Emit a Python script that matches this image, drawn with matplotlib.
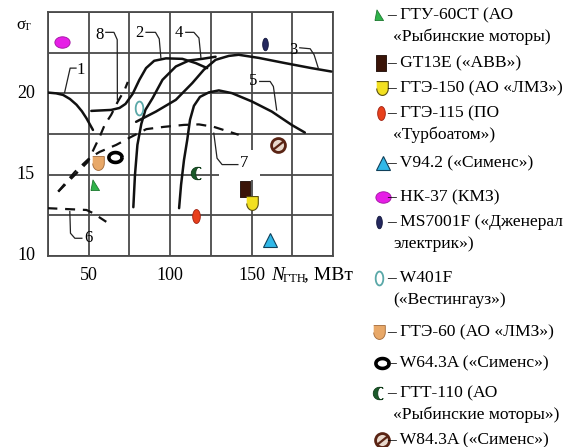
import numpy as np
import matplotlib.pyplot as plt
from matplotlib.path import Path
from matplotlib.patches import Rectangle

plt.rcParams['font.family'] = ['Liberation Serif', 'DejaVu Serif']

# кривые 1..8 : N (МВт), sigma_T
c1_n = [24.6, 30.0, 34.3, 38.5, 42.5, 45.8, 48.6, 52.6]
c1_s = [20.05, 20.0, 19.9, 19.65, 19.3, 18.9, 18.47, 17.75]
c2_n = [51.6, 63.8, 68.9, 72.6, 77.0, 81.1, 85.2, 90.2, 97.4, 107.5, 115.7, 122.7]
c2_s = [18.92, 18.98, 19.1, 19.35, 19.97, 20.83, 21.55, 22.0, 22.15, 22.12, 21.86, 21.55]
c3_n = [79.1, 91.3, 103.5, 113.6, 120.7, 127.9, 136.0, 142.1, 154.3, 170.5, 186.8, 199.0]
c3_s = [18.25, 18.88, 19.6, 20.63, 21.45, 22.06, 22.3, 22.37, 22.18, 21.86, 21.55, 21.34]
c4_n = [77.4, 78.4, 79.9, 82.3, 84.8, 89.2, 95.3, 103.5, 111.6, 119.7, 127.9]
c4_s = [13.0, 14.98, 16.83, 18.12, 18.98, 19.7, 20.83, 21.65, 22.02, 22.12, 22.25]
c5_n = [105.5, 106.7, 108.5, 110.5, 112.2, 114.6, 118.3, 123.8, 129.9, 138.0, 150.2, 162.4, 174.6, 182.7]
c5_s = [12.94, 14.37, 15.9, 17.14, 18.37, 19.23, 19.78, 20.06, 20.18, 20.01, 19.5, 18.88, 18.06, 17.59]
c6_n = [24.6, 48.6, 52.4, 60.8]
c6_s = [12.94, 12.83, 12.65, 12.1]
c7_n = [31.3, 41.5, 50.6, 56.7, 66.9, 76.0, 85.4, 96.3, 108.5, 117.7, 126.8, 142.1]
c7_s = [13.96, 15.17, 16.03, 16.4, 16.83, 17.32, 17.8, 17.94, 18.06, 18.09, 17.94, 17.45]
c8_n = [31.3, 49.4, 53.7, 56.7, 59.8, 63.8, 67.9, 72.0, 74.0]
c8_s = [13.96, 15.78, 16.7, 17.32, 18.06, 18.68, 19.5, 20.2, 20.7]

# ГТУ (точки)
gtu_names = ["ГТУ-60СТ", "GT13E", "ГТЭ-150", "ГТЭ-115", "V94.2", "НК-37",
             "MS7001F", "W401F", "ГТЭ-60", "W64.3A", "ГТТ-110", "W84.3A"]
gtu_n = [54.1, 146.2, 150.2, 116.0, 161.4, 33.4, 158.3, 81.1, 55.7, 65.9, 116.3, 166.5]
gtu_s = [14.37, 14.1, 13.28, 12.46, 10.98, 23.13, 23.05, 19.09, 15.74, 16.11, 15.09, 16.83]

legend_text = [
    ["– ГТУ-60СТ (АО", "«Рыбинские моторы)"],
    ["– GT13E («АВВ»)"],
    ["– ГТЭ-150 (АО «ЛМЗ»)"],
    ["– ГТЭ-115 (ПО", "«Турбоатом»)"],
    ["– V94.2 («Сименс»)"],
    ["– НК-37 (КМЗ)"],
    ["– MS7001F («Дженерал", "электрик»)"],
    ["– W401F", "(«Вестингауз»)"],
    ["– ГТЭ-60 (АО «ЛМЗ»)"],
    ["– W64.3A («Сименс»)"],
    ["– ГТТ-110 (АО", "«Рыбинские моторы»)"],
    ["– W84.3A («Сименс»)"],
]

# формы маркеров
t = np.linspace(0, 2 * np.pi, 40)
ell_h = Path(np.c_[np.cos(t), 0.75 * np.sin(t)])
ell_v = Path(np.c_[0.55 * np.cos(t), np.sin(t)])
ell_n = Path(np.c_[0.45 * np.cos(t), np.sin(t)])
tb = np.linspace(np.pi, 2 * np.pi, 15)
shield = Path(np.r_[[[-0.5, 0.6], [0.5, 0.6], [0.5, 0.0]],
                    np.c_[0.5 * np.cos(tb[::-1]), 0.6 * np.sin(tb[::-1])], [[-0.5, 0.0]]])
rtri = Path([(-0.45, -0.5), (0.4, -0.5), (-0.25, 0.55), (-0.45, -0.5)])
rect = Path([(-0.3, -0.5), (0.3, -0.5), (0.3, 0.5), (-0.3, 0.5), (-0.3, -0.5)])
ta = np.linspace(0.3 * np.pi, 1.7 * np.pi, 25)
crescent = Path(np.r_[np.c_[np.cos(ta), np.sin(ta)],
                      np.c_[0.55 * np.cos(ta[::-1]) + 0.265, np.sin(ta[::-1])]])
slash = Path([(-0.5, -0.4), (0.5, 0.4)])

styles = [
    dict(marker=rtri, ms=8, mfc='#2fb34a', mec='#1d7a30', mew=0.6),
    dict(marker=rect, ms=12, mfc='#3a1408', mec='#1a0804', mew=0.6),
    dict(marker=shield, ms=10, mfc='#f2e020', mec='#5a5010', mew=0.8),
    dict(marker=ell_v, ms=10, mfc='#e8401c', mec='#a02010', mew=0.6),
    dict(marker='^', ms=10, mfc='#30b8e8', mec='#10405a', mew=0.8),
    dict(marker=ell_h, ms=11, mfc='#e61ee6', mec='#a010a0', mew=0.6),
    dict(marker=ell_n, ms=9, mfc='#24285e', mec='#10143a', mew=0.6),
    dict(marker=ell_v, ms=10, mfc='white', mec='#5aa8a8', mew=1.3),
    dict(marker=shield, ms=10, mfc='#e8a868', mec='#a06838', mew=0.6),
    dict(marker=ell_h, ms=9.5, mfc='white', mec='black', mew=2.6),
    dict(marker=crescent, ms=9, mfc='#1a5a2a', mec='#0e3a18', mew=0.6),
    dict(marker='o', ms=10, mfc='#e8d8cc', mec='#5a2414', mew=2.0),
]

fig = plt.figure(figsize=(5.69, 4.47), dpi=100)
ax = fig.add_axes([48 / 569, 1 - 256 / 447, 285 / 569, 244 / 447])
ax.set_xlim(25, 200)
ax.set_ylim(10, 25)
ax.set_xticks(np.arange(25, 201, 25))
ax.set_yticks(np.arange(10, 25.1, 2.5))
ax.set_xticklabels([])
ax.set_yticklabels([])
ax.tick_params(length=0)
ax.grid(True, color='#4a4a4a', lw=1.3)
for sp in ax.spines.values():
    sp.set_color('#4a4a4a')
    sp.set_linewidth(1.3)

solid = dict(color='#111111', lw=1.8, solid_capstyle='round', zorder=3)
dashed = dict(color='#111111', lw=1.6, ls=(0, (4.5, 3.5)), zorder=3)
ax.plot(c1_n, c1_s, **solid)
ax.plot(c2_n, c2_s, **solid)
ax.plot(c3_n, c3_s, **solid)
ax.plot(c4_n, c4_s, **solid)
ax.plot(c5_n, c5_s, **solid)
ax.plot(c6_n, c6_s, **dashed)
ax.plot(c7_n, c7_s, **dashed)
ax.plot(c8_n, c8_s, **dashed)

for n, s, st in zip(gtu_n, gtu_s, styles):
    ax.plot([n], [s], ls='none', zorder=4, **st)
ax.plot([gtu_n[-1]], [gtu_s[-1]], ls='none', marker=slash, ms=8, mec='#5a2414', mew=1.6, zorder=5)

# белое поле под меткой 7
ax.add_patch(Rectangle((130, 14.7), 25, 1.8, facecolor='white', edgecolor='none', zorder=2.5))

# номера кривых с выносками
lead = dict(color='#222222', lw=0.9, zorder=3, clip_on=False)
tk = dict(fontsize=12, ha='center', va='center', zorder=6)
ax.text(44.8, 21.45, "1", **tk)
ax.plot([42.2, 38.6, 35.2], [21.55, 21.55, 20.05], **lead)
ax.text(56.7, 23.6, "8", **tk)
ax.plot([60.5, 65.5, 67.5, 67.6], [23.75, 23.75, 23.3, 19.6], **lead)
ax.text(81.1, 23.7, "2", **tk)
ax.plot([85.2, 91.0, 93.3, 94.3], [23.75, 23.75, 23.35, 22.2], **lead)
ax.text(105.5, 23.7, "4", **tk)
ax.plot([109.6, 114.6, 117.7, 118.9], [23.75, 23.75, 23.4, 22.2], **lead)
ax.text(175.6, 22.68, "3", **tk)
ax.plot([179.6, 186.0, 188.4, 190.9], [22.8, 22.74, 22.37, 21.57], **lead)
ax.text(151.2, 20.73, "5", **tk)
ax.plot([155.0, 161.4, 163.4, 165.4], [20.73, 20.73, 20.42, 18.98], **lead)
ax.text(145.3, 15.7, "7", **tk)
ax.plot([141.6, 131.9, 128.8, 126.8], [15.62, 15.62, 16.01, 17.55], **lead)
ax.text(49.8, 11.09, "6", **tk)
ax.plot([45.8, 41.5, 38.8, 38.4], [11.09, 11.09, 11.4, 12.73], **lead)

# оверлей в пикселях: подписи осей и легенда
ov = fig.add_axes([0, 0, 1, 1])
ov.set_xlim(0, 569)
ov.set_ylim(447, 0)
ov.axis('off')

for v, lab in [(20, "20"), (15, "15"), (10, "10")]:
    ov.text(35, 256 - (v - 10) * 16.27, lab, fontsize=13, ha='right', va='center')
for v, lab in [(50, "50"), (100, "100"), (150, "150")]:
    ov.text(48 + (v - 25) * 1.63, 275, lab, fontsize=13, ha='center', va='center')
ov.text(16, 25, "σ", fontsize=12, ha='left', va='center')
ov.text(24, 28, "Т", fontsize=8, ha='left', va='center')
ov.text(271, 275, "N", fontsize=14, style='italic', ha='left', va='center')
ov.text(283, 279, "ГТН", fontsize=9, ha='left', va='center')
ov.text(304, 275, ", МВт", fontsize=14, ha='left', va='center')

row_y = [15, 63, 88, 113, 163, 197, 222, 278, 332, 363, 393, 440]
mark_x = [379, 381, 382, 381, 383, 383, 379, 379, 379, 382, 379, 382]
for y, mx, lines, st in zip(row_y, mark_x, legend_text, styles):
    ov.plot([mx], [y], ls='none', **st)
    ov.text(387, y, lines[0], fontsize=12.6, ha='left', va='center')
    if len(lines) > 1:
        ov.text(393, y + 22, lines[1], fontsize=12.6, ha='left', va='center')
ov.plot([382], [440], ls='none', marker=slash, ms=8, mec='#5a2414', mew=1.6)

fig.savefig("out.png", dpi=100)
